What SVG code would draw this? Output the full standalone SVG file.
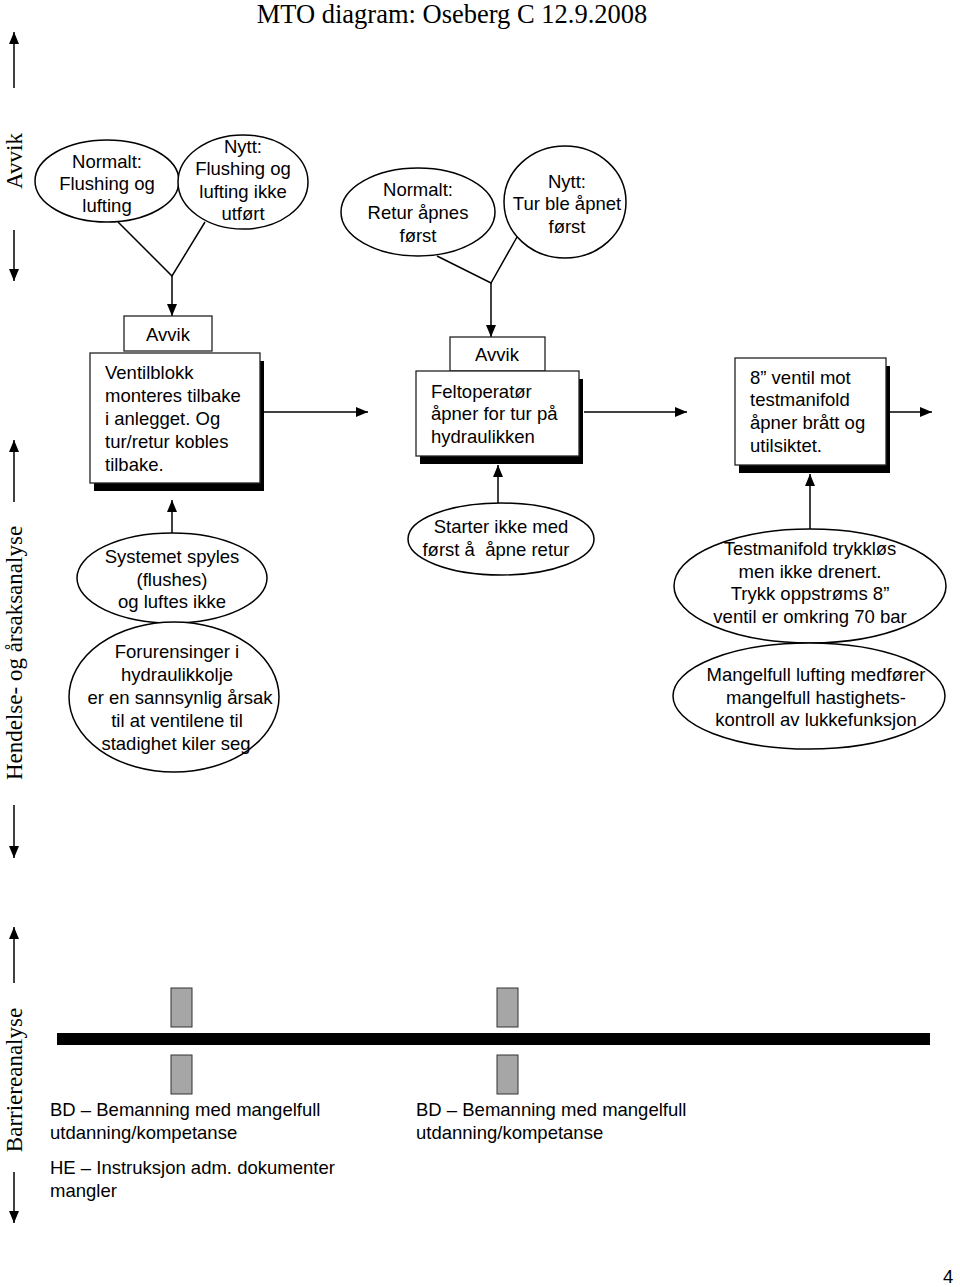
<svg xmlns="http://www.w3.org/2000/svg" width="960" height="1287" viewBox="0 0 960 1287">
<style>
.t{font-family:"Liberation Sans",Arial,sans-serif;font-size:18.5px;fill:#000}
.c{text-anchor:middle}
.serif{font-family:"Liberation Serif","Times New Roman",serif;fill:#000}
.ell{fill:#fff;stroke:#000;stroke-width:1.5}
.box{fill:#fff;stroke:#222;stroke-width:1.3}
.sh{fill:#000}
.ln{stroke:#000;stroke-width:1.5;fill:none}
.bar{fill:#a6a6a6;stroke:#333;stroke-width:1}
</style>
<defs>
<marker id="ah" viewBox="0 0 12 10" refX="12" refY="5" markerUnits="userSpaceOnUse" markerWidth="12" markerHeight="10" orient="auto">
<path d="M0,0 L12,5 L0,10 z" fill="#000"/>
</marker>
</defs>
<rect width="960" height="1287" fill="#fff"/>

<g id="title">
<text class="serif" x="452" y="23" font-size="26.5" text-anchor="middle">MTO diagram: Oseberg C 12.9.2008</text>
</g>

<g id="axis-labels">
<text class="serif" font-size="23" text-anchor="middle" transform="translate(22,161) rotate(-90)">Avvik</text>
<text class="serif" font-size="23" text-anchor="middle" transform="translate(22,653) rotate(-90)">Hendelse- og årsaksanalyse</text>
<text class="serif" font-size="23" text-anchor="middle" transform="translate(22,1080) rotate(-90)">Barriereanalyse</text>
<line class="ln" x1="14" y1="88" x2="14" y2="32" marker-end="url(#ah)"/>
<line class="ln" x1="14" y1="230" x2="14" y2="281" marker-end="url(#ah)"/>
<line class="ln" x1="14" y1="502" x2="14" y2="440" marker-end="url(#ah)"/>
<line class="ln" x1="14" y1="805" x2="14" y2="858" marker-end="url(#ah)"/>
<line class="ln" x1="14" y1="983" x2="14" y2="927" marker-end="url(#ah)"/>
<line class="ln" x1="14" y1="1172" x2="14" y2="1223" marker-end="url(#ah)"/>
</g>

<g id="connectors">
<polyline class="ln" points="118,222 172,276 205,222"/>
<line class="ln" x1="172" y1="276" x2="172" y2="316" marker-end="url(#ah)"/>
<polyline class="ln" points="437,256 491,283 517,237"/>
<line class="ln" x1="491" y1="283" x2="491" y2="337" marker-end="url(#ah)"/>
<line class="ln" x1="264" y1="412" x2="368" y2="412" marker-end="url(#ah)"/>
<line class="ln" x1="584" y1="412" x2="687" y2="412" marker-end="url(#ah)"/>
<line class="ln" x1="889" y1="412" x2="932" y2="412" marker-end="url(#ah)"/>
<line class="ln" x1="172" y1="533" x2="172" y2="500" marker-end="url(#ah)"/>
<line class="ln" x1="498" y1="503" x2="498" y2="465" marker-end="url(#ah)"/>
<line class="ln" x1="810" y1="530" x2="810" y2="474" marker-end="url(#ah)"/>
</g>

<g id="n-normalt-flushing">
<ellipse class="ell" cx="107" cy="181" rx="72" ry="41"/>
<text class="t c" x="107" y="168">Normalt:</text>
<text class="t c" x="107" y="190">Flushing og</text>
<text class="t c" x="107" y="212">lufting</text>
</g>

<g id="n-nytt-flushing">
<ellipse class="ell" cx="243" cy="182" rx="65" ry="47"/>
<text class="t c" x="243" y="153">Nytt:</text>
<text class="t c" x="243" y="175">Flushing og</text>
<text class="t c" x="243" y="198">lufting ikke</text>
<text class="t c" x="243" y="220">utført</text>
</g>

<g id="n-normalt-retur">
<ellipse class="ell" cx="418" cy="212" rx="77" ry="44"/>
<text class="t c" x="418" y="196">Normalt:</text>
<text class="t c" x="418" y="219">Retur åpnes</text>
<text class="t c" x="418" y="242">først</text>
</g>

<g id="n-nytt-tur">
<ellipse class="ell" cx="565" cy="202" rx="61" ry="56"/>
<text class="t c" x="567" y="188">Nytt:</text>
<text class="t c" x="567" y="210">Tur ble åpnet</text>
<text class="t c" x="567" y="233">først</text>
</g>

<g id="n-avvik1">
<rect class="box" x="124" y="316" width="88" height="35"/>
<text class="t c" x="168" y="341">Avvik</text>
</g>

<g id="n-ventilblokk">
<rect class="sh" x="94" y="361" width="170" height="130"/>
<rect class="box" x="90" y="353" width="170" height="130"/>
<text class="t" x="105" y="379">Ventilblokk</text>
<text class="t" x="105" y="402">monteres tilbake</text>
<text class="t" x="105" y="425">i anlegget. Og</text>
<text class="t" x="105" y="448">tur/retur kobles</text>
<text class="t" x="105" y="471">tilbake.</text>
</g>

<g id="n-avvik2">
<rect class="box" x="450" y="337" width="95" height="34"/>
<text class="t c" x="497" y="361">Avvik</text>
</g>

<g id="n-feltoperator">
<rect class="sh" x="420" y="379" width="163" height="85"/>
<rect class="box" x="416" y="371" width="163" height="85"/>
<text class="t" x="431" y="398">Feltoperatør</text>
<text class="t" x="431" y="420">åpner for tur på</text>
<text class="t" x="431" y="443">hydraulikken</text>
</g>

<g id="n-8ventil">
<rect class="sh" x="739" y="366" width="151" height="107"/>
<rect class="box" x="735" y="358" width="151" height="107"/>
<text class="t" x="750" y="384">8” ventil mot</text>
<text class="t" x="750" y="406">testmanifold</text>
<text class="t" x="750" y="429">åpner brått og</text>
<text class="t" x="750" y="452">utilsiktet.</text>
</g>

<g id="n-systemet">
<ellipse class="ell" cx="172" cy="578" rx="95" ry="45"/>
<text class="t c" x="172" y="563">Systemet spyles</text>
<text class="t c" x="172" y="586">(flushes)</text>
<text class="t c" x="172" y="608">og luftes ikke</text>
</g>

<g id="n-forurensinger">
<ellipse class="ell" cx="174" cy="697" rx="105" ry="75"/>
<text class="t c" x="177" y="658">Forurensinger i</text>
<text class="t c" x="177" y="681">hydraulikkolje</text>
<text class="t c" x="180" y="704">er en sannsynlig årsak</text>
<text class="t c" x="177" y="727">til at ventilene til</text>
<text class="t c" x="176" y="750">stadighet kiler seg</text>
</g>

<g id="n-starter">
<ellipse class="ell" cx="501" cy="539" rx="93" ry="36"/>
<text class="t c" x="501" y="533">Starter ikke med</text>
<text class="t c" x="496" y="556">først å&#160; åpne retur</text>
</g>

<g id="n-testmanifold">
<ellipse class="ell" cx="810" cy="586" rx="136" ry="57"/>
<text class="t c" x="810" y="555">Testmanifold trykkløs</text>
<text class="t c" x="810" y="578">men ikke drenert.</text>
<text class="t c" x="810" y="600">Trykk oppstrøms 8”</text>
<text class="t c" x="810" y="623">ventil er omkring 70 bar</text>
</g>

<g id="n-mangelfull">
<ellipse class="ell" cx="809" cy="696" rx="136" ry="53"/>
<text class="t c" x="816" y="681">Mangelfull lufting medfører</text>
<text class="t c" x="816" y="704">mangelfull hastighets-</text>
<text class="t c" x="816" y="726">kontroll av lukkefunksjon</text>
</g>

<g id="barrier">
<rect x="57" y="1033" width="873" height="12" fill="#000"/>
<rect class="bar" x="171" y="988" width="21" height="39"/>
<rect class="bar" x="171" y="1055" width="21" height="39"/>
<rect class="bar" x="497" y="988" width="21" height="39"/>
<rect class="bar" x="497" y="1055" width="21" height="39"/>
</g>

<g id="n-barrier-text-1">
<text class="t" x="50" y="1116">BD – Bemanning med mangelfull</text>
<text class="t" x="50" y="1139">utdanning/kompetanse</text>
<text class="t" x="50" y="1174">HE – Instruksjon adm. dokumenter</text>
<text class="t" x="50" y="1197">mangler</text>
</g>

<g id="n-barrier-text-2">
<text class="t" x="416" y="1116">BD – Bemanning med mangelfull</text>
<text class="t" x="416" y="1139">utdanning/kompetanse</text>
</g>

<g id="page-number">
<text class="t" x="943" y="1283" font-size="17">4</text>
</g>
</svg>
